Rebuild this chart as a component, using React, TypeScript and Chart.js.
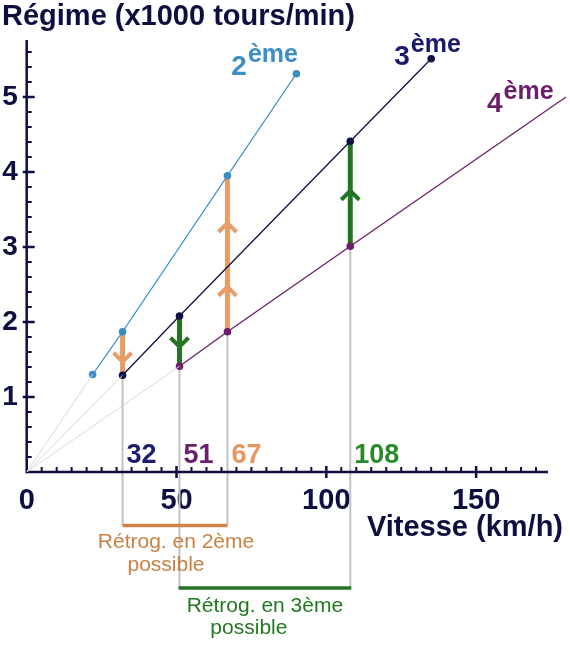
import { useEffect, useRef } from "react";
import { Chart, registerables } from "chart.js";

Chart.register(...registerables);

// ---- data ----
const gear2Speed = [22, 32, 67, 90];
const gear2Rpm = [1.3, 1.87, 3.95, 5.31];
const gear3Speed = [32, 51, 108, 135];
const gear3Rpm = [1.29, 2.08, 4.41, 5.51];
const gear4Speed = [51, 67, 108, 180];
const gear4Rpm = [1.41, 1.87, 3.01, 5.0];

const xTicks = [0, 50, 100, 150];
const yTicks = [1, 2, 3, 4, 5];

const gearDigits = ["2", "3", "4"];
const gearSuffix = "ème";

// shift arrows
const arrowSpeed = [32, 51, 67, 108];
const arrowFrom = [1.87, 2.08, 1.87, 3.01];
const arrowTo = [1.29, 1.41, 3.95, 4.41];
const arrowHeads = [[1.47], [1.67], [2.47, 3.32], [3.75]];

// speed labels / guides
const shiftSpeeds = [32, 51, 67, 108];
const shiftLabels = ["32", "51", "67", "108"];
const guideTop = [1.29, 1.41, 1.87, 3.01];
const guideBracket = [0, 1, 0, 1];

// downshift ranges
const range2 = [32, 67];
const range3 = [51, 108];
const range2Text = ["Rétrog. en 2ème", "possible"];
const range3Text = ["Rétrog. en 3ème", "possible"];

const titleText = "Régime (x1000 tours/min)";
const xTitleText = "Vitesse (km/h)";

// ---- styles ----
const FONT = "'Liberation Sans', Arial, sans-serif";
const AXIS = "#0e0e40";
const C2 = "#3a8cc2";
const C3 = "#10104a";
const C4 = "#6c1f6c";
const ORANGE = "#e89c66";
const ORANGE_TXT = "#c98042";
const GREEN = "#237423";
const GREEN_TXT = "#1f7a1f";
const GUIDE = "#c2c2c2";
const ORIGIN_GUIDE = "#d8d8d8";
const arrowColors = [ORANGE, GREEN, ORANGE, GREEN];
const labelColors = ["#1c1c70", C4, "#e8965e", "#2a8a2a"];
const gearLabelColors = ["#3d8fc5", "#1a1a6a", C4];

const X_MAX = 180;
const Y_MAX = 5.76;
const X_AXIS_END = 174;

const pts = (xs: number[], ys: number[]) => xs.map((x, i) => ({ x, y: ys[i] }));

const drawPlugin = {
  id: "gearDecor",
  beforeDatasetsDraw(chart: any) {
    const ctx = chart.ctx as CanvasRenderingContext2D;
    const xs = chart.scales.x;
    const ys = chart.scales.y;
    const px = (v: number) => xs.getPixelForValue(v);
    const py = (v: number) => ys.getPixelForValue(v);
    const bracketY = [525.5, 588];
    const line = (a: number, b: number, c: number, d: number) => {
      ctx.beginPath();
      ctx.moveTo(a, b);
      ctx.lineTo(c, d);
      ctx.stroke();
    };
    ctx.save();
    // vertical guides
    ctx.strokeStyle = GUIDE;
    ctx.lineWidth = 2;
    shiftSpeeds.forEach((s, i) => {
      line(px(s), py(guideTop[i]), px(s), bracketY[guideBracket[i]]);
    });
    // brackets
    ctx.lineWidth = 3.5;
    ctx.strokeStyle = "#cc8448";
    line(px(range2[0]), bracketY[0], px(range2[1]), bracketY[0]);
    ctx.strokeStyle = GREEN;
    line(px(range3[0]) - 1, bracketY[1], px(range3[1]) + 1, bracketY[1]);

    // axes
    const x0 = px(0);
    const y0 = py(0);
    ctx.strokeStyle = AXIS;
    ctx.lineWidth = 2.5;
    line(x0, y0, px(X_AXIS_END), y0);
    line(x0, y0 + 1.25, x0, py(Y_MAX));
    for (let v = 5; v < X_AXIS_END; v += 5) {
      const x = px(v);
      if (v % 50 === 0) {
        ctx.lineWidth = 2.5;
        line(x, y0 - 6, x, y0 + 6);
      } else {
        ctx.lineWidth = 2;
        line(x, y0, x, y0 - 5);
      }
    }
    for (let i = 1; i * 0.2 < Y_MAX; i++) {
      const y = py(i * 0.2);
      if (i % 5 === 0) {
        ctx.lineWidth = 2.5;
        line(x0 - 4, y, x0 + 8, y);
      } else {
        ctx.lineWidth = 2;
        line(x0, y, x0 + 5, y);
      }
    }

    // arrows
    arrowSpeed.forEach((s, i) => {
      const x = px(s);
      ctx.strokeStyle = arrowColors[i];
      ctx.lineWidth = 5;
      ctx.lineCap = "butt";
      line(x, py(arrowFrom[i]), x, py(arrowTo[i]));
      const dir = arrowTo[i] < arrowFrom[i] ? -1 : 1; // -1 down
      ctx.lineWidth = 4;
      ctx.lineJoin = "miter";
      arrowHeads[i].forEach((h) => {
        const ty = py(h);
        const ay = dir < 0 ? ty - 9 : ty + 9;
        ctx.beginPath();
        ctx.moveTo(x - 9, ay);
        ctx.lineTo(x, ty);
        ctx.lineTo(x + 9, ay);
        ctx.stroke();
      });
    });
    ctx.restore();
  },
  afterDraw(chart: any) {
    const ctx = chart.ctx as CanvasRenderingContext2D;
    const xs = chart.scales.x;
    const ys = chart.scales.y;
    const px = (v: number) => xs.getPixelForValue(v);
    const py = (v: number) => ys.getPixelForValue(v);
    ctx.save();
    ctx.textBaseline = "alphabetic";
    // title
    ctx.fillStyle = AXIS;
    ctx.font = `bold 29px ${FONT}`;
    ctx.textAlign = "left";
    ctx.fillText(titleText, 2, 25);
    ctx.textAlign = "right";
    ctx.fillText(xTitleText, 563, 536);

    // speed labels
    ctx.font = `bold 27px ${FONT}`;
    ctx.textAlign = "left";
    shiftLabels.forEach((t, i) => {
      ctx.fillStyle = labelColors[i];
      ctx.fillText(t, px(shiftSpeeds[i]) + 4, 463);
    });

    // gear labels
    const ends = [
      [gear2Speed[3], gear2Rpm[3]],
      [gear3Speed[3], gear3Rpm[3]],
      [gear4Speed[3], gear4Rpm[3]],
    ];
    const dx = [-65, -37, -79];
    const dy = [1, 6, 15];
    gearDigits.forEach((d, i) => {
      const bx = px(ends[i][0]) + dx[i];
      const by = py(ends[i][1]) + dy[i];
      ctx.fillStyle = gearLabelColors[i];
      ctx.font = `bold 28px ${FONT}`;
      ctx.fillText(d, bx, by);
      const w = ctx.measureText(d).width;
      ctx.font = `bold 25px ${FONT}`;
      ctx.fillText(gearSuffix, bx + w + 1, by - 13);
    });

    // range texts
    ctx.font = `21px ${FONT}`;
    ctx.textAlign = "center";
    const c2 = (px(range2[0]) + px(range2[1])) / 2;
    ctx.fillStyle = ORANGE_TXT;
    ctx.fillText(range2Text[0], c2 + 1, 548);
    ctx.fillText(range2Text[1], c2 - 9, 571);
    const c3 = (px(range3[0]) + px(range3[1])) / 2;
    ctx.fillStyle = GREEN_TXT;
    ctx.fillText(range3Text[0], c3, 612);
    ctx.fillText(range3Text[1], c3 - 16, 634);
    ctx.restore();
  },
};

export default function App() {
  const ref = useRef<HTMLCanvasElement | null>(null);
  useEffect(() => {
    if (!ref.current) return;
    const origin = { x: 0, y: 0 };
    const guide = (x: number, y: number) => ({
      data: [origin, { x, y }],
      borderColor: ORIGIN_GUIDE,
      borderWidth: 1,
      pointRadius: 0,
      showLine: true,
    });
    const chart = new Chart(ref.current, {
      type: "scatter",
      data: {
        datasets: [
          guide(gear2Speed[0], gear2Rpm[0]),
          guide(gear3Speed[0], gear3Rpm[0]),
          guide(gear4Speed[0], gear4Rpm[0]),
          {
            data: pts(gear2Speed, gear2Rpm),
            borderColor: C2,
            backgroundColor: C2,
            borderWidth: 1.3,
            pointRadius: 3.8,
            pointBorderWidth: 0,
            showLine: true,
          },
          {
            data: pts(gear3Speed, gear3Rpm),
            borderColor: C3,
            backgroundColor: C3,
            borderWidth: 1.3,
            pointRadius: 3.8,
            pointBorderWidth: 0,
            showLine: true,
          },
          {
            data: pts(gear4Speed, gear4Rpm),
            borderColor: C4,
            backgroundColor: C4,
            borderWidth: 1.3,
            pointRadius: [3.8, 3.8, 3.8, 0],
            pointBorderWidth: 0,
            showLine: true,
          },
        ] as any,
      },
      options: {
        animation: false,
        responsive: false,
        events: [],
        layout: { padding: { top: 40, right: 3.3, left: 0, bottom: 0 } },
        plugins: {
          legend: { display: false },
          tooltip: { enabled: false },
          title: { display: false },
        },
        scales: {
          x: {
            type: "linear",
            min: 0,
            max: X_MAX,
            grid: { display: false, drawTicks: false },
            border: { display: false },
            afterBuildTicks: (s: any) => {
              s.ticks = xTicks.map((value) => ({ value }));
            },
            afterFit: (s: any) => {
              s.height = 173;
            },
            ticks: {
              autoSkip: false,
              maxRotation: 0,
              padding: 12,
              color: AXIS,
              font: { family: FONT, size: 29, weight: "bold" },
            },
          },
          y: {
            type: "linear",
            min: 0,
            max: Y_MAX,
            grid: { display: false, drawTicks: false },
            border: { display: false },
            afterBuildTicks: (s: any) => {
              s.ticks = yTicks.map((value) => ({ value }));
            },
            afterFit: (s: any) => {
              s.width = 26.7;
            },
            ticks: {
              autoSkip: false,
              padding: 9,
              color: AXIS,
              font: { family: FONT, size: 28, weight: "bold" },
            },
          },
        },
      } as any,
      plugins: [drawPlugin],
    });
    return () => chart.destroy();
  }, []);
  return (
    <div style={{ position: "absolute", left: 0, top: 0, width: 570, height: 645, background: "#fff" }}>
      <canvas ref={ref} width={570} height={645} style={{ display: "block", width: 570, height: 645 }} />
    </div>
  );
}
